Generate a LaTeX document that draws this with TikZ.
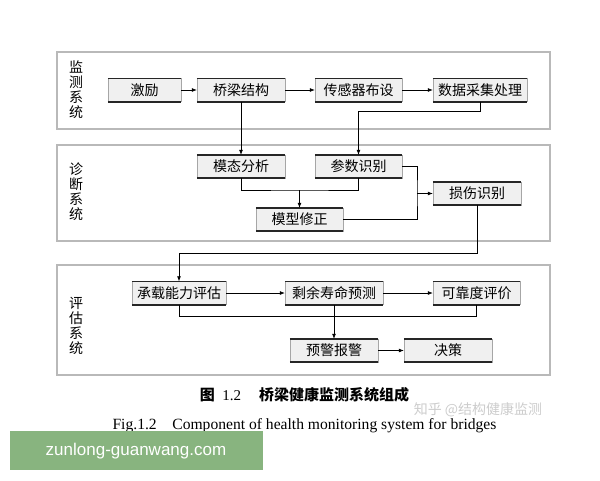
\documentclass[tikz,border=0pt]{standalone}
\usepackage{fontspec}
\setmainfont{Liberation Serif}
\newfontfamily\cjk{Noto Sans CJK SC}
\newfontfamily\webfont{Liberation Sans}
\usepackage{tikz}
\usetikzlibrary{arrows.meta,positioning}

\definecolor{banner}{RGB}{136,180,127}

\tikzset{
    blk/.style={draw=gray!70,fill=gray!12,minimum height=23pt,inner sep=0pt,
        font=\cjk\fontsize{14}{14}\selectfont},
    panel/.style={draw=gray!55,line width=1.2pt},
    side/.style={align=center,inner sep=0pt,font=\cjk\fontsize{14}{15}\selectfont},
    edge/.style={line width=1.6pt,black!85},
    link/.style={line width=0.7pt},
    arr/.style={link,-{Latex[length=5pt,width=4pt]}}
}

\begin{document}
\begin{tikzpicture}[x=1pt,y=-1pt]
    \useasboundingbox (0,0) rectangle (600,480);
    % panels
    \draw[panel] (57,52) rectangle (550,129);
    \draw[panel] (57,145) rectangle (550,241);
    \draw[panel] (57,265) rectangle (550,375);
    \node[side] (p1) at (76,90)  {监\\测\\系\\统};
    \node[side] (p2) at (76,192) {诊\\断\\系\\统};
    \node[side] (p3) at (76,326) {评\\估\\系\\统};

    % monitoring
    \node[blk,minimum width=73pt] (jl) at (144.5,90) {激励};
    \node[blk,minimum width=88pt] (ql) at (241,90)   {桥梁结构};
    \node[blk,minimum width=87pt] (cg) at (358.5,90) {传感器布设};
    \node[blk,minimum width=94pt] (sj) at (480,90)   {数据采集处理};

    % diagnosis
    \node[blk,minimum width=88pt] (mt) at (241,166.5)   {模态分析};
    \node[blk,minimum width=87pt] (cs) at (358.5,166.5) {参数识别};
    \node[blk,minimum width=88pt] (ss) at (477,193.5)   {损伤识别};
    \node[blk,minimum width=87pt] (mx) at (299.5,219.5) {模型修正};

    % evaluation
    \node[blk,minimum width=94pt] (cz) at (179,293)   {承载能力评估};
    \node[blk,minimum width=98pt] (sy) at (334,293)   {剩余寿命预测};
    \node[blk,minimum width=87pt] (kk) at (476.5,293) {可靠度评价};
    \node[blk,minimum width=88pt] (yj) at (334,350.5) {预警报警};
    \node[blk,minimum width=88pt] (jc) at (448,350.5) {决策};

    \foreach \n in {jl,ql,cg,sj,mt,cs,ss,mx,cz,sy,kk,yj,jc}
        \draw[edge] (\n.north west) -- (\n.north east)
                    (\n.south west) -- (\n.south east);

    \coordinate (j1) at (299.5,190);
    \coordinate (j2) at (417,193.5);

    \draw[arr] (jl) -- (ql);
    \draw[arr] (ql) -- (cg);
    \draw[arr] (cg) -- (sj);
    \draw[arr] (ql.south) -- (mt.north);
    \draw[arr] (sj.south) -- ++(0,10) -| (cs.north);
    \draw[link] (mt.south) |- (j1) -| (cs.south);
    \draw[arr] (j1) -- (mx.north);
    \draw[link] (cs.east) -| (j2) |- (mx.east);
    \draw[arr] (j2) -- (ss.west);
    \draw[arr] (ss.south) -- ++(0,48) -| (cz.north);
    \draw[arr] (cz) -- (sy);
    \draw[arr] (sy) -- (kk);
    \draw[link] (cz.south) -- ++(0,12) -| (kk.south);
    \draw[arr] (sy.south) -- (yj.north);
    \draw[arr] (yj) -- (jc);

    % caption
    \node[inner sep=0pt] (cap) at (304.5,395)
        {\fontsize{15}{15}\selectfont{\cjk\bfseries 图}\ \ 1.2\hspace{1.2em}{\cjk\bfseries 桥梁健康监测系统组成}};
    \node[inner sep=0pt,text=gray!40] (wm) at (478,410)
        {\cjk\fontsize{14}{14}\selectfont 知乎 @结构健康监测};
    \node[inner sep=0pt] (fig) at (304.5,426)
        {\fontsize{15.6}{16}\selectfont Fig.1.2\hspace{1em}Component of health monitoring system for bridges};

    % banner
    \fill[banner] (10,431) rectangle (263,470);
    \node[inner sep=0pt,text=white] (web) at (136,451)
        {\webfont\fontsize{17}{17}\selectfont zunlong-guanwang.com};
\end{tikzpicture}
\end{document}
